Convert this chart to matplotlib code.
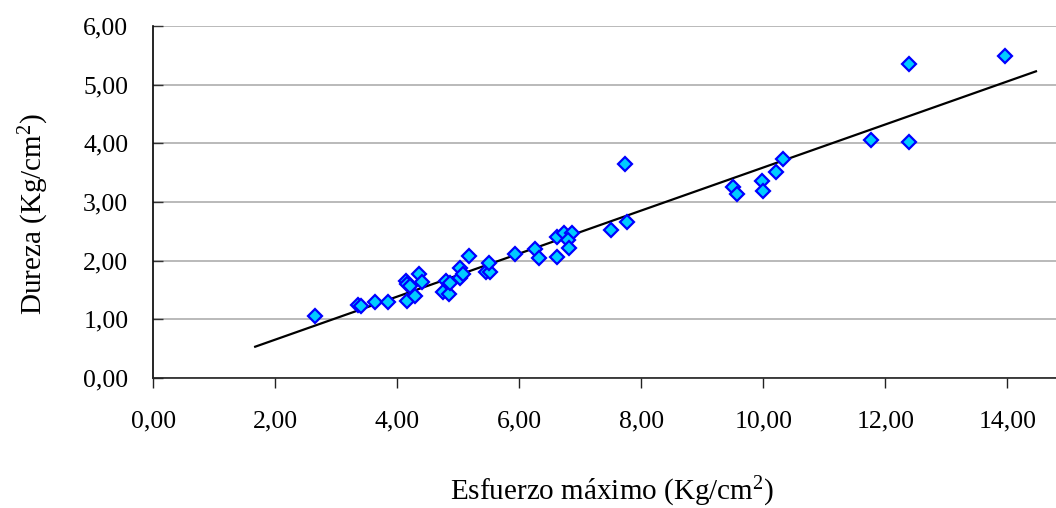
import numpy as np
import matplotlib
matplotlib.use("Agg")
import matplotlib.pyplot as plt

plt.rcParams['font.family'] = ['Liberation Serif', 'DejaVu Serif']
plt.rcParams['mathtext.fontset'] = 'custom'
plt.rcParams['mathtext.rm'] = 'Liberation Serif'
plt.rcParams['mathtext.it'] = 'Liberation Serif:italic'

# Maximum stress vs hardness measurements (Kg/cm2)
esfuerzo = [2.65, 3.36, 3.41, 3.63, 3.84, 4.14, 4.16, 4.20, 4.16, 4.29,
            4.36, 4.40, 4.75, 4.85, 4.80, 4.86, 5.02, 5.03, 5.07, 5.18,
            5.45, 5.52, 5.50, 5.93, 6.25, 6.33, 6.62, 6.61, 6.73, 6.86,
            6.80, 6.82, 7.51, 7.77, 7.74, 9.51, 9.57, 9.98, 10.00, 10.20,
            10.33, 11.77, 12.39, 12.39, 13.97]
dureza = [1.06, 1.24, 1.22, 1.30, 1.295, 1.65, 1.61, 1.57, 1.32, 1.39,
          1.78, 1.64, 1.47, 1.43, 1.66, 1.62, 1.88, 1.71, 1.78, 2.08,
          1.80, 1.80, 1.955, 2.12, 2.20, 2.05, 2.06, 2.40, 2.47, 2.47,
          2.35, 2.21, 2.53, 2.66, 3.65, 3.25, 3.14, 3.35, 3.18, 3.51,
          3.73, 4.06, 4.02, 5.36, 5.49]

# Range over which the linear trend line is drawn
trend_range = [1.67, 14.47]

x_ticks = [0, 2, 4, 6, 8, 10, 12, 14]
y_ticks = [0, 1, 2, 3, 4, 5, 6]


def coma(v):
    return f"{v:.2f}".replace(".", ",")


W, H = 1056, 508
fig = plt.figure(figsize=(W / 100, H / 100), dpi=100)
ax = fig.add_axes([153.3 / W, 1 - 378 / H, 1 - 153.3 / W, (378 - 26) / H])

ax.set_xlim(0, (W - 153.3) / 61.0)
ax.set_ylim(0, 6)

ax.yaxis.grid(True, color='#b4b4b4', linewidth=1.3)
ax.set_axisbelow(True)

slope, intercept = np.polyfit(esfuerzo, dureza, 1)
tx = np.array(trend_range)
ax.plot(tx, slope * tx + intercept, color='black', linewidth=1.6, zorder=3)

ax.plot(esfuerzo, dureza, linestyle='none', marker='D', markersize=7.6,
        markerfacecolor='#00ccff', markeredgecolor='#0000ff',
        markeredgewidth=1.6, zorder=4)

ax.set_xticks(x_ticks)
ax.set_xticklabels([coma(v) for v in x_ticks])
ax.set_yticks(y_ticks)
ax.set_yticklabels([coma(v) for v in y_ticks])

for s in ('top', 'right'):
    ax.spines[s].set_visible(False)
ax.spines['left'].set_color('black')
ax.spines['bottom'].set_color('#222222')
ax.spines['left'].set_linewidth(1.2)
ax.spines['bottom'].set_linewidth(1.2)

ax.tick_params(axis='x', direction='out', length=7.2, width=1.0,
               labelsize=18.5, pad=16, color='#222222')
ax.tick_params(axis='y', direction='in', length=7.2, width=1.0,
               labelsize=18.5, pad=18, color='#333333')

fig.text(612 / W, 1 - 500 / H, r'Esfuerzo máximo (Kg/cm$^2$)',
         ha='center', va='baseline', fontsize=21)
fig.text(42 / W, 1 - 214 / H, r'Dureza (Kg/cm$^2$)',
         ha='center', va='baseline', rotation=90, rotation_mode='anchor',
         fontsize=21)

fig.savefig('out.png', dpi=100)
